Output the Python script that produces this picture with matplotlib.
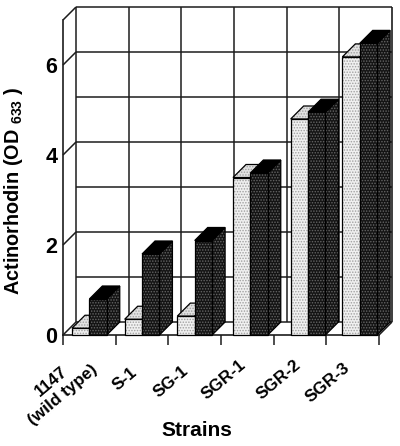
import matplotlib
matplotlib.use("Agg")
import matplotlib.pyplot as plt
from matplotlib.patches import Polygon

plt.rcParams['font.family'] = ['Liberation Sans', 'DejaVu Sans']
plt.rcParams['font.weight'] = 'bold'
plt.rcParams['mathtext.fontset'] = 'custom'
plt.rcParams['mathtext.rm'] = 'Liberation Sans:bold'
plt.rcParams['mathtext.default'] = 'rm'
plt.rcParams['hatch.linewidth'] = 0.7

strains = ["1147\n(wild type)", "S-1", "SG-1", "SGR-1", "SGR-2", "SGR-3"]
light_values = [0.15, 0.35, 0.42, 3.5, 4.8, 6.18]
dark_values = [0.8, 1.8, 2.1, 3.6, 4.95, 6.48]
y_ticks = [0, 2, 4, 6]
y_max = 7
ylabel = "Actinorhodin (OD $_{633}$ )"
xlabel = "Strains"

W, H = 400, 446
L, R, B, T = 63, 379, 335, 20
PITCH = (R - L) / 6
DX = 13 / PITCH                  # depth in category units
DY = 13 / ((B - T) / y_max)      # depth in value units
BW = 0.33
# layout: bar group inset and label shifts per category, in pixels
bar_inset_px = [9, 9, 9, 12, 17, 16]
label_shift_px = [-10, -12, -13, -8, -6, -10]
label_raise_px = [14, -2, 0, 6, 6, 3]
INK = '#1c1c1c'

fig = plt.figure(figsize=(W / 100, H / 100), dpi=100, facecolor='white')
ax = fig.add_axes([L / W, 1 - B / H, (R - L) / W, (B - T) / H])
ax.set_xlim(0, len(strains))
ax.set_ylim(0, y_max)
ax.patch.set_visible(False)
for s in ['top', 'right']:
    ax.spines[s].set_visible(False)
for s in ['left', 'bottom']:
    ax.spines[s].set_linewidth(1.2)
    ax.spines[s].set_color(INK)


def line(xs, ys, lw=1.1, z=1):
    ax.plot(xs, ys, color=INK, lw=lw, zorder=z, clip_on=False, solid_capstyle='butt')


# walls
n = len(strains)
for v in range(y_max + 1):
    line([DX, n + DX], [v + DY, v + DY])
for v in y_ticks + [y_max]:
    line([0, DX], [v, v + DY])
for c in range(n + 1):
    line([c + DX, c + DX], [DY, y_max + DY], lw=1.2 if c == n else 1.1)
line([n, n + DX], [0, DY])


def poly(pts, face, hatch, hatch_col, z):
    ax.add_patch(Polygon(pts, closed=True, facecolor=face, edgecolor=hatch_col,
                         hatch=hatch, linewidth=0, zorder=z, clip_on=False))
    ax.add_patch(Polygon(pts, closed=True, fill=False, edgecolor='black',
                         linewidth=0.9, zorder=z + 0.1, clip_on=False))


def box(x, val, face, hatch_col, top_face, top_hatch, z):
    poly([(x + BW, 0), (x + BW + DX, DY), (x + BW + DX, val + DY), (x + BW, val)],
         face, '......', hatch_col, z)
    poly([(x, val), (x + BW, val), (x + BW + DX, val + DY), (x + DX, val + DY)],
         top_face, top_hatch, hatch_col, z)
    ax.bar(x, val, BW, align='edge', color=face, edgecolor=hatch_col, hatch='......',
           linewidth=0, zorder=z + 0.2, clip_on=False)
    ax.bar(x, val, BW, align='edge', fill=False, edgecolor='black', linewidth=0.9,
           zorder=z + 0.3, clip_on=False)


for i, (lv, dv) in enumerate(zip(light_values, dark_values)):
    x0 = i + bar_inset_px[i] / PITCH
    box(x0, lv, '#f0f0f0', '#a0a0a0', '#e2e2e2', '......', 3 + i)
    box(x0 + BW, dv, '#141414', '#666666', '#000000', None, 3.5 + i)

ax.set_yticks(y_ticks)
ax.tick_params(axis='y', length=0, pad=4, labelsize=15.5)
ax.set_xticks(range(n + 1))
ax.set_xticklabels([])
ax.tick_params(axis='x', which='major', length=7.2, width=1.1, color=INK)
ax.set_xticks([i + 0.5 + s / PITCH for i, s in enumerate(label_shift_px)], minor=True)
ax.set_xticklabels(strains, minor=True, fontsize=12.3, rotation=40, ha='right', va='top',
                   rotation_mode='anchor', multialignment='center')
ax.tick_params(axis='x', which='minor', length=0, pad=20)
for lab, up in zip(ax.get_xticklabels(minor=True), label_raise_px):
    lab.set_y(up / (B - T))

fig.text(14 / W, 1 - 191 / H, ylabel, rotation=90, ha='center', va='center', fontsize=14.3)
fig.text(197 / W, 1 - 431 / H, xlabel, ha='center', va='center', fontsize=15)

fig.savefig('out.png', dpi=100)
